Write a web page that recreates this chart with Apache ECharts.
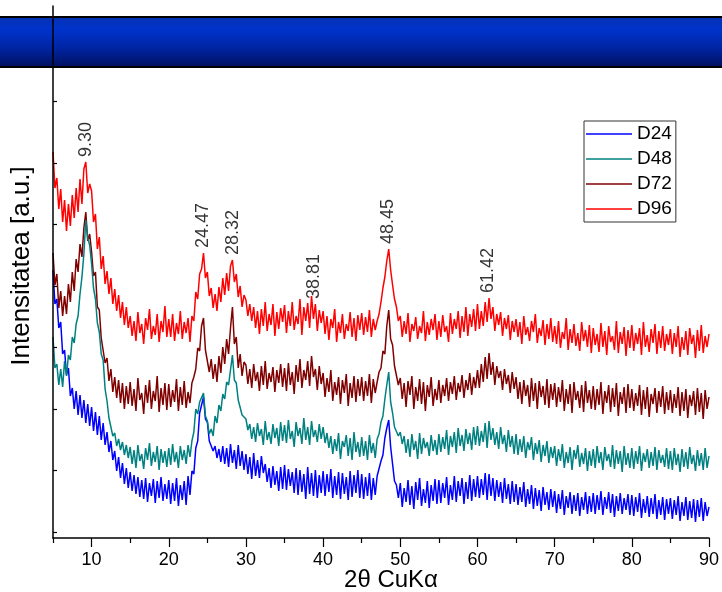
<!DOCTYPE html>
<html>
<head>
<meta charset="utf-8">
<script src="https://cdn.jsdelivr.net/npm/echarts@6/dist/echarts.min.js"></script>
<style>
  html, body { margin: 0; padding: 0; background: #fff; }
  #chart { width: 722px; height: 592px; }
</style>
</head>
<body>
<div id="chart"></div>
<script>
// Diffractograms: 2θ scan from 5° to 90°, one intensity reading every 0.25°
const scanStart = 5;
const scanStep = 0.25;

const seriesNames = ['D24', 'D48', 'D72', 'D96'];

const D24 = [
  270, 236, 241, 212, 218, 186, 190, 165, 172, 144, 152, 131, 149, 125, 145, 122, 140, 117, 136, 114,
  133, 109, 128, 105, 124, 100, 117, 95, 108, 88, 99, 80, 89, 69, 83, 62, 77, 56, 72, 52,
  68, 49, 65, 46, 63, 43, 60, 41, 62, 38, 57, 44, 61, 37, 59, 42, 63, 39, 56, 41,
  60, 36, 57, 39, 62, 34, 55, 40, 59, 35, 64, 45, 69, 66, 92, 99, 127, 129, 143, 121,
  118, 99, 101, 89, 94, 82, 91, 78, 94, 76, 92, 73, 96, 77, 90, 71, 95, 74, 89, 70,
  86, 66, 83, 61, 87, 64, 80, 62, 84, 67, 76, 58, 72, 52, 74, 55, 69, 49, 73, 51,
  75, 50, 71, 54, 68, 47, 72, 45, 70, 48, 66, 41, 73, 46, 67, 44, 70, 42, 65, 47,
  69, 44, 66, 48, 71, 42, 64, 45, 68, 41, 67, 46, 63, 40, 69, 43, 65, 47, 70, 42,
  66, 41, 63, 44, 67, 40, 62, 45, 64, 63, 79, 85, 102, 112, 120, 93, 76, 59, 55, 42,
  57, 33, 52, 38, 60, 35, 54, 31, 58, 40, 62, 34, 51, 37, 59, 32, 55, 39, 61, 36,
  60, 37, 57, 42, 63, 35, 55, 40, 64, 38, 59, 44, 62, 36, 58, 41, 65, 39, 61, 43,
  64, 42, 61, 45, 67, 40, 66, 44, 62, 39, 60, 43, 58, 37, 62, 41, 56, 36, 59, 38,
  56, 35, 53, 38, 58, 33, 51, 36, 55, 31, 52, 34, 50, 29, 53, 35, 48, 30, 51, 33,
  49, 27, 46, 31, 50, 25, 44, 32, 48, 26, 45, 29, 47, 24, 43, 30, 48, 26, 44, 28,
  47, 26, 45, 30, 49, 25, 43, 31, 48, 27, 46, 23, 44, 29, 47, 26, 42, 30, 46, 25,
  45, 24, 43, 28, 47, 22, 41, 27, 44, 23, 42, 26, 46, 21, 40, 25, 43, 20, 41, 26,
  42, 21, 40, 25, 44, 19, 38, 24, 43, 20, 39, 22, 41, 18, 40, 23, 42, 19, 38, 24,
  33
];

const D48 = [
  203, 172, 176, 155, 171, 153, 179, 164, 185, 180, 203, 197, 216, 224, 246, 263, 286, 320, 302, 295,
  276, 252, 241, 217, 208, 186, 180, 151, 139, 122, 123, 104, 107, 94, 101, 90, 98, 85, 95, 82,
  93, 76, 90, 72, 95, 79, 86, 71, 92, 80, 97, 74, 88, 78, 94, 70, 91, 77, 89, 73,
  92, 75, 96, 78, 88, 72, 94, 80, 90, 76, 95, 83, 99, 108, 131, 126, 138, 137, 147, 124,
  119, 106, 111, 104, 124, 117, 135, 129, 146, 141, 158, 155, 170, 185, 160, 157, 140, 139, 125, 127,
  121, 110, 116, 101, 113, 98, 117, 104, 111, 95, 119, 100, 108, 96, 116, 102, 112, 94, 118, 99,
  115, 97, 120, 101, 109, 93, 118, 104, 112, 96, 122, 100, 113, 95, 119, 103, 110, 98, 116, 101,
  113, 97, 107, 92, 104, 86, 101, 89, 107, 81, 99, 93, 105, 84, 102, 80, 108, 88, 98, 83,
  103, 84, 99, 80, 105, 87, 97, 82, 101, 106, 118, 124, 141, 155, 168, 138, 127, 113, 115, 104,
  108, 96, 104, 87, 101, 83, 106, 90, 99, 81, 107, 86, 102, 92, 98, 84, 105, 89, 100, 85,
  106, 88, 103, 91, 110, 85, 104, 93, 108, 87, 112, 94, 105, 89, 111, 96, 107, 90, 113, 95,
  114, 94, 109, 98, 117, 92, 119, 100, 112, 95, 108, 91, 113, 96, 105, 88, 110, 93, 104, 86,
  106, 85, 101, 88, 104, 82, 98, 90, 103, 80, 97, 86, 100, 78, 95, 84, 99, 77, 93, 82,
  94, 74, 91, 79, 96, 72, 88, 77, 93, 70, 90, 81, 95, 73, 87, 76, 92, 69, 89, 74,
  91, 72, 94, 77, 88, 70, 93, 79, 86, 73, 95, 71, 90, 76, 89, 68, 94, 75, 87, 72,
  92, 71, 89, 76, 94, 69, 87, 78, 91, 72, 88, 74, 93, 70, 90, 77, 85, 73, 92, 71,
  89, 70, 92, 75, 86, 68, 91, 73, 88, 71, 93, 76, 85, 69, 90, 74, 87, 70, 92, 72,
  84
];

const D72 = [
  287, 255, 266, 232, 249, 224, 244, 226, 256, 238, 268, 249, 281, 268, 296, 283, 312, 328, 299, 306,
  288, 264, 268, 233, 230, 202, 203, 177, 182, 159, 171, 148, 163, 142, 160, 137, 157, 131, 154, 136,
  158, 134, 151, 129, 162, 140, 147, 126, 155, 137, 160, 131, 149, 139, 164, 128, 152, 135, 157, 130,
  156, 133, 150, 138, 161, 129, 153, 135, 159, 132, 148, 137, 157, 163, 171, 192, 189, 214, 222, 190,
  189, 168, 181, 161, 176, 158, 184, 167, 193, 176, 201, 186, 212, 233, 196, 203, 172, 186, 164, 178,
  175, 156, 171, 152, 176, 159, 168, 149, 174, 155, 179, 151, 167, 158, 173, 148, 170, 157, 176, 153,
  172, 149, 177, 155, 168, 146, 175, 158, 181, 152, 170, 160, 179, 154, 184, 163, 171, 150, 174, 156,
  167, 143, 162, 148, 170, 139, 158, 145, 163, 136, 160, 147, 166, 134, 157, 142, 164, 138, 161, 144,
  163, 139, 159, 144, 166, 137, 161, 147, 158, 168, 172, 189, 186, 214, 230, 201, 195, 174, 172, 155,
  162, 141, 157, 133, 159, 145, 164, 131, 153, 139, 161, 136, 158, 129, 155, 143, 163, 134, 151, 140,
  160, 137, 155, 144, 162, 139, 158, 146, 164, 140, 157, 148, 165, 142, 160, 150, 167, 145, 163, 152,
  170, 152, 176, 158, 183, 161, 187, 165, 178, 155, 174, 162, 169, 150, 171, 156, 165, 147, 168, 151,
  163, 141, 158, 136, 160, 144, 155, 133, 162, 139, 157, 131, 159, 143, 154, 135, 161, 132, 156, 140,
  157, 133, 153, 138, 160, 129, 151, 136, 156, 127, 158, 140, 149, 132, 155, 128, 159, 137, 150, 131,
  154, 130, 151, 135, 158, 126, 149, 137, 155, 128, 152, 133, 157, 124, 148, 136, 153, 127, 156, 132,
  151, 129, 147, 134, 155, 125, 150, 131, 153, 123, 146, 136, 152, 127, 149, 133, 154, 126, 148, 130,
  150, 127, 146, 132, 153, 124, 148, 129, 151, 122, 145, 134, 149, 125, 152, 128, 147, 121, 150, 131,
  143
];

const D96 = [
  388, 352, 362, 331, 351, 318, 340, 309, 336, 314, 345, 322, 352, 328, 361, 336, 371, 378, 347, 356,
  349, 318, 326, 291, 303, 271, 284, 256, 269, 246, 262, 236, 251, 229, 245, 222, 238, 215, 233, 212,
  224, 204, 219, 199, 228, 207, 216, 196, 222, 210, 231, 201, 214, 205, 226, 198, 219, 208, 234, 203,
  221, 203, 226, 199, 217, 206, 229, 201, 218, 207, 222, 198, 224, 219, 248, 241, 266, 271, 287, 262,
  268, 244, 252, 232, 246, 229, 253, 238, 262, 245, 267, 249, 274, 280, 258, 266, 243, 254, 233, 245,
  240, 224, 236, 219, 233, 212, 229, 206, 231, 214, 238, 209, 226, 215, 236, 204, 228, 211, 232, 218,
  235, 207, 229, 214, 238, 210, 224, 216, 241, 205, 233, 219, 237, 212, 244, 221, 236, 209, 230, 217,
  229, 206, 224, 200, 221, 212, 231, 198, 218, 207, 226, 201, 216, 209, 228, 203, 222, 199, 225, 210,
  227, 205, 223, 208, 230, 203, 221, 210, 219, 226, 238, 252, 263, 279, 291, 270, 255, 241, 233, 219,
  224, 203, 219, 206, 227, 198, 216, 209, 223, 201, 214, 207, 229, 199, 218, 205, 221, 210, 226, 200,
  219, 203, 225, 208, 214, 198, 227, 206, 221, 211, 229, 202, 224, 208, 233, 204, 226, 213, 231, 209,
  236, 211, 229, 214, 238, 218, 242, 221, 233, 209, 226, 215, 228, 204, 222, 211, 225, 200, 219, 208,
  221, 203, 218, 196, 224, 205, 213, 199, 219, 208, 226, 197, 212, 204, 220, 195, 216, 201, 222, 198,
  214, 196, 219, 192, 208, 201, 222, 190, 211, 197, 216, 194, 207, 189, 218, 199, 210, 193, 215, 187,
  212, 195, 206, 188, 217, 193, 209, 185, 214, 198, 204, 190, 219, 187, 208, 196, 213, 184, 210, 192,
  215, 189, 207, 196, 212, 185, 218, 193, 205, 188, 211, 197, 216, 186, 209, 192, 214, 189, 206, 195,
  211, 186, 207, 193, 214, 183, 203, 190, 209, 185, 212, 196, 205, 182, 210, 189, 215, 187, 204, 193,
  206
];

// Reflections marked on the D96 pattern (2θ, degrees)
const peakAngles = [9.30, 24.47, 28.32, 38.81, 48.45, 61.42];

// Axis ticks
const xTickLabels = [10, 20, 30, 40, 50, 60, 70, 80, 90];
const xMinorTicks = [5, 15, 25, 35, 45, 55, 65, 75, 85];
const yTicks = [8, 69.5, 131, 192.5, 254, 315.5, 377, 438.5];

const seriesColors = {
  D24: '#0000ff',
  D48: '#008080',
  D72: '#800000',
  D96: '#ff0000'
};
const seriesZ = { D24: 2, D72: 3, D48: 4, D96: 5 };
const values = { D24, D48, D72, D96 };

const angles = D96.map((_, i) => +(scanStart + i * scanStep).toFixed(2));

// Each marker sits on the highest D96 reading around the reflection
function peakTop(angle) {
  let best = -Infinity;
  angles.forEach((a, i) => {
    if (Math.abs(a - angle) <= 0.3 && D96[i] > best) best = D96[i];
  });
  return best;
}

const fontFamily = '"Liberation Sans", Arial, sans-serif';

const chart = echarts.init(document.getElementById('chart'), null, { renderer: 'canvas' });

const lineSeries = seriesNames.map(name => ({
  name,
  type: 'line',
  xAxisIndex: 0,
  yAxisIndex: 0,
  data: angles.map((a, i) => [a, values[name][i]]),
  showSymbol: false,
  symbol: 'none',
  z: seriesZ[name],
  lineStyle: { color: seriesColors[name], width: 1.5 },
  itemStyle: { color: seriesColors[name] },
  emphasis: { disabled: true },
  animation: false
}));

const peakSeries = {
  name: 'peaks',
  type: 'scatter',
  xAxisIndex: 0,
  yAxisIndex: 0,
  symbolSize: 0,
  z: 6,
  data: peakAngles.map(a => [a, peakTop(a)]),
  label: {
    show: true,
    position: 'top',
    distance: 5,
    rotate: 90,
    align: 'left',
    verticalAlign: 'middle',
    fontFamily,
    fontSize: 18,
    color: '#000',
    formatter: p => p.value[0].toFixed(2)
  },
  emphasis: { disabled: true },
  animation: false
};

chart.setOption({
  backgroundColor: '#fff',
  animation: false,
  grid: { left: 53, right: 13, top: 6, bottom: 54, containLabel: false, outerBoundsMode: 'none' },
  graphic: [{
    type: 'rect',
    silent: true,
    z: 0,
    shape: { x: -2, y: 17, width: 726, height: 50 },
    style: {
      fill: new echarts.graphic.LinearGradient(0, 0, 0, 1, [
        { offset: 0, color: '#0632b0' },
        { offset: 0.25, color: '#0033cc' },
        { offset: 0.6, color: '#0025a5' },
        { offset: 1, color: '#000f5c' }
      ]),
      stroke: '#000',
      lineWidth: 2
    }
  }],
  legend: {
    data: seriesNames.map(name => ({ name, icon: 'rect', itemStyle: { color: seriesColors[name] } })),
    orient: 'vertical',
    left: 584,
    top: 121,
    padding: [3, 4, 3, 2],
    itemGap: 5,
    itemWidth: 46,
    itemHeight: 1.5,
    backgroundColor: '#fff',
    borderColor: '#333',
    borderWidth: 1,
    borderRadius: 0,
    selectedMode: false,
    textStyle: { fontFamily, fontSize: 19, lineHeight: 20, color: '#000' }
  },
  xAxis: [{
    type: 'value',
    min: 5,
    max: 90,
    position: 'bottom',
    z: 10,
    axisLine: { show: true, onZero: false, lineStyle: { color: '#000', width: 1.5 } },
    axisTick: { show: true, inside: false, length: 9, customValues: xTickLabels, lineStyle: { color: '#000', width: 1.2 } },
    axisLabel: { show: true, customValues: xTickLabels, margin: 13, fontFamily, fontSize: 18, color: '#000' },
    splitLine: { show: false },
    name: '2θ CuKα',
    nameLocation: 'middle',
    nameGap: 30,
    nameMoveOverlap: false,
    nameTextStyle: { fontFamily, fontSize: 24, color: '#000', padding: [0, 0, 0, 20] }
  }, {
    type: 'value',
    min: 5,
    max: 90,
    position: 'bottom',
    z: 10,
    axisLine: { show: false },
    axisTick: { show: true, inside: false, length: 5, customValues: xMinorTicks, lineStyle: { color: '#000', width: 1.2 } },
    axisLabel: { show: false },
    splitLine: { show: false }
  }],
  yAxis: {
    type: 'value',
    min: 2,
    max: 534,
    z: 10,
    axisLine: { show: true, onZero: false, lineStyle: { color: '#000', width: 1.5 } },
    axisTick: { show: true, inside: true, length: 4, customValues: yTicks, lineStyle: { color: '#000', width: 1.2 } },
    axisLabel: { show: false },
    splitLine: { show: false },
    name: 'Intensitatea [a.u.]',
    nameLocation: 'middle',
    nameGap: 18,
    nameMoveOverlap: false,
    nameTextStyle: { fontFamily, fontSize: 26, color: '#000', padding: [0, 0, 0, 12] }
  },
  series: [...lineSeries, peakSeries]
});
</script>
</body>
</html>
